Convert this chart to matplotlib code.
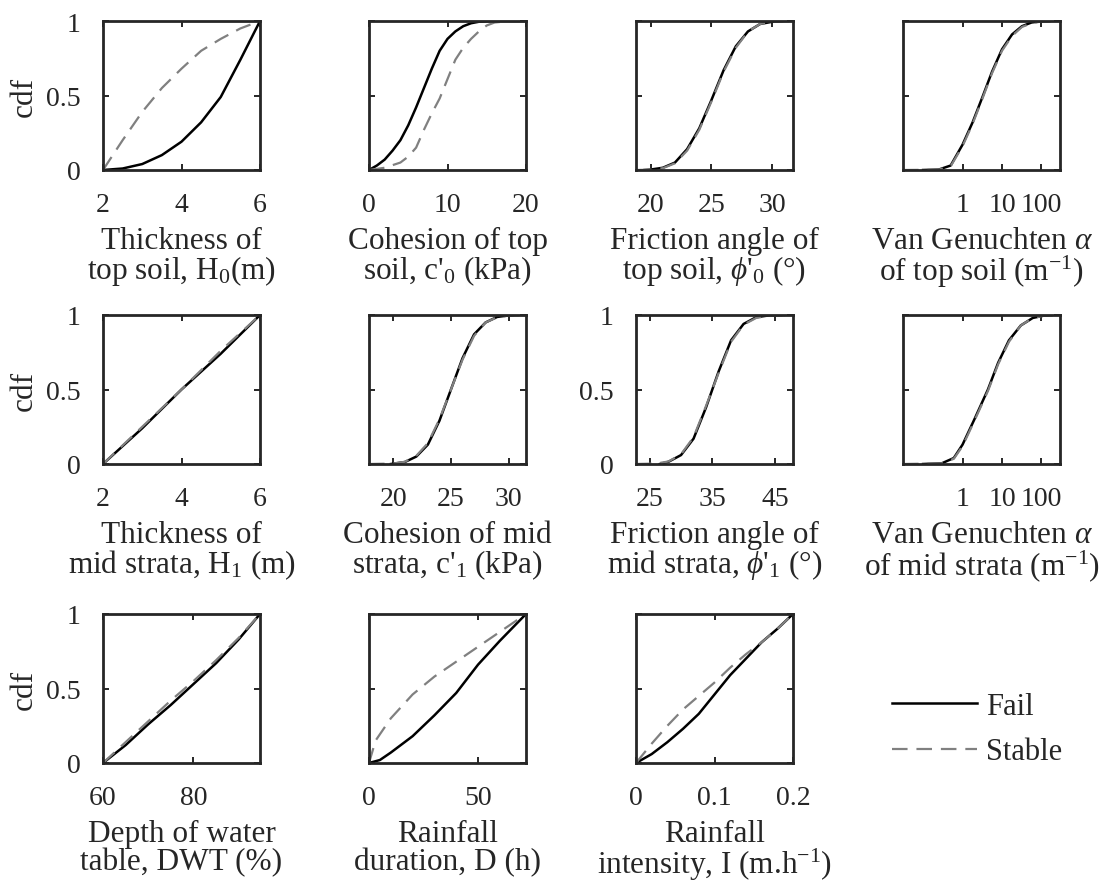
from matplotlib import pyplot as plt
from matplotlib.ticker import LogLocator, NullFormatter, FixedLocator, FixedFormatter
import numpy as np

plt.rcParams['font.family'] = ['Liberation Serif', 'DejaVu Serif']
plt.rcParams['mathtext.fontset'] = 'custom'
plt.rcParams['mathtext.rm'] = 'Liberation Serif'
plt.rcParams['mathtext.it'] = 'Liberation Serif:italic'
plt.rcParams['font.size'] = 20

INK = '#262626'
GRAY = '#808080'

# ---- data (x value, cdf) ----
h0_fail_x = [2, 2.5, 3, 3.5, 4, 4.5, 5, 5.5, 6]
h0_fail_y = [0, 0.01, 0.04, 0.1, 0.19, 0.32, 0.49, 0.74, 1.0]
h0_stab_x = [2, 2.5, 3, 3.5, 4, 4.5, 5, 5.5, 6]
h0_stab_y = [0, 0.2, 0.39, 0.55, 0.68, 0.8, 0.88, 0.95, 1.0]

c0_fail_x = [0, 1, 2, 3, 4, 5, 6, 7, 8, 9, 10, 11, 12, 13, 14, 16, 20]
c0_fail_y = [0, 0.03, 0.07, 0.13, 0.2, 0.3, 0.42, 0.55, 0.68, 0.8, 0.88, 0.93, 0.965, 0.985, 0.995, 1.0, 1.0]
c0_stab_x = [0, 2, 4, 5, 6, 7, 8, 9, 10, 11, 12, 13, 14, 15, 16, 18, 20]
c0_stab_y = [0, 0.015, 0.05, 0.09, 0.15, 0.27, 0.38, 0.48, 0.61, 0.74, 0.82, 0.88, 0.93, 0.97, 0.99, 1.0, 1.0]

phi0_fail_x = [19.5, 20, 21, 22, 23, 24, 25, 26, 27, 28, 29, 30, 30.8]
phi0_fail_y = [0, 0.003, 0.015, 0.05, 0.14, 0.28, 0.47, 0.67, 0.83, 0.93, 0.98, 0.995, 1.0]
phi0_stab_x = [18.8, 20, 21, 22, 23, 24, 25, 26, 27, 28, 29, 30, 31.7]
phi0_stab_y = [0, 0.002, 0.012, 0.045, 0.13, 0.27, 0.46, 0.66, 0.82, 0.93, 0.98, 0.995, 1.0]

a0_fail_x = [0.1, 0.25, 0.5, 1, 1.8, 3.2, 5.6, 10, 18, 32, 56, 100, 160]
a0_fail_y = [0, 0.003, 0.03, 0.17, 0.32, 0.49, 0.66, 0.81, 0.91, 0.965, 0.99, 0.998, 1.0]
a0_stab_x = [0.031, 0.25, 0.5, 1, 1.8, 3.2, 5.6, 10, 18, 32, 56, 100, 295]
a0_stab_y = [0, 0.002, 0.025, 0.16, 0.31, 0.48, 0.65, 0.8, 0.9, 0.96, 0.985, 0.997, 1.0]

h1_fail_x = [2, 3, 4, 5, 6]
h1_fail_y = [0, 0.24, 0.5, 0.74, 1.0]
h1_stab_x = [2, 3, 4, 5, 6]
h1_stab_y = [0, 0.25, 0.5, 0.76, 1.0]

c1_fail_x = [19.8, 21, 22, 23, 24, 25, 26, 27, 28, 29, 30, 30.4]
c1_fail_y = [0, 0.013, 0.05, 0.13, 0.29, 0.5, 0.71, 0.87, 0.95, 0.987, 0.997, 1.0]
c1_stab_x = [17.9, 20, 21, 22, 23, 24, 25, 26, 27, 28, 29, 30, 31.5]
c1_stab_y = [0, 0.003, 0.015, 0.055, 0.14, 0.3, 0.5, 0.7, 0.86, 0.95, 0.985, 0.996, 1.0]

phi1_fail_x = [26.6, 28, 30, 32, 34, 35, 36, 38, 40, 42, 44, 46]
phi1_fail_y = [0, 0.015, 0.06, 0.17, 0.38, 0.5, 0.62, 0.83, 0.94, 0.985, 0.997, 1.0]
phi1_stab_x = [22.8, 26, 28, 30, 32, 34, 35, 36, 38, 40, 42, 44, 47.9]
phi1_stab_y = [0, 0.003, 0.017, 0.065, 0.18, 0.39, 0.5, 0.61, 0.82, 0.935, 0.98, 0.995, 1.0]

a1_fail_x = [0.1, 0.3, 0.6, 1, 2, 4.4, 8, 15, 30, 60, 120, 180]
a1_fail_y = [0, 0.005, 0.04, 0.13, 0.3, 0.5, 0.68, 0.83, 0.93, 0.98, 0.997, 1.0]
a1_stab_x = [0.031, 0.3, 0.6, 1, 2, 4.4, 8, 15, 30, 60, 120, 295]
a1_stab_y = [0, 0.004, 0.035, 0.12, 0.29, 0.49, 0.67, 0.82, 0.93, 0.98, 0.996, 1.0]

dwt_fail_x = [60, 65, 70, 75, 80, 85, 90, 94.7]
dwt_fail_y = [0, 0.12, 0.26, 0.39, 0.53, 0.67, 0.83, 1.0]
dwt_stab_x = [60, 65, 70, 75, 80, 85, 90, 94.7]
dwt_stab_y = [0, 0.14, 0.28, 0.42, 0.55, 0.69, 0.84, 1.0]

d_fail_x = [0, 5, 10, 20, 30, 40, 50, 60, 72]
d_fail_y = [0, 0.02, 0.07, 0.18, 0.32, 0.47, 0.66, 0.82, 1.0]
d_stab_x = [0, 3, 10, 20, 30, 40, 50, 60, 72]
d_stab_y = [0, 0.15, 0.3, 0.46, 0.58, 0.68, 0.78, 0.88, 1.0]

i_fail_x = [0, 0.02, 0.04, 0.06, 0.08, 0.1, 0.12, 0.14, 0.16, 0.18, 0.2]
i_fail_y = [0, 0.06, 0.14, 0.23, 0.33, 0.46, 0.59, 0.7, 0.81, 0.9, 1.0]
i_stab_x = [0, 0.02, 0.04, 0.06, 0.08, 0.1, 0.12, 0.14, 0.16, 0.18, 0.2]
i_stab_y = [0, 0.13, 0.25, 0.36, 0.45, 0.54, 0.64, 0.73, 0.81, 0.9, 1.0]

panels = [
    (h0_fail_x, h0_fail_y, h0_stab_x, h0_stab_y, (2, 6), [2, 4, 6], ['2', '4', '6'],
     'Thickness of\ntop soil, H$_0$(m)'),
    (c0_fail_x, c0_fail_y, c0_stab_x, c0_stab_y, (0, 20), [0, 10, 20], ['0', '10', '20'],
     "Cohesion of top\nsoil, c'$_0$ (kPa)"),
    (phi0_fail_x, phi0_fail_y, phi0_stab_x, phi0_stab_y, (18.8, 31.7), [20, 25, 30], ['20', '25', '30'],
     "Friction angle of\ntop soil, $\\it{\\phi}$'$_0$ (°)"),
    (a0_fail_x, a0_fail_y, a0_stab_x, a0_stab_y, (0.031, 295), [1, 10, 100], ['1', '10', '100'],
     'Van Genuchten $\\it{\\alpha}$\nof top soil (m$^{-1}$)'),
    (h1_fail_x, h1_fail_y, h1_stab_x, h1_stab_y, (2, 6), [2, 4, 6], ['2', '4', '6'],
     'Thickness of\nmid strata, H$_1$ (m)'),
    (c1_fail_x, c1_fail_y, c1_stab_x, c1_stab_y, (17.9, 31.5), [20, 25, 30], ['20', '25', '30'],
     "Cohesion of mid\nstrata, c'$_1$ (kPa)"),
    (phi1_fail_x, phi1_fail_y, phi1_stab_x, phi1_stab_y, (22.8, 47.9), [25, 35, 45], ['25', '35', '45'],
     "Friction angle of\nmid strata, $\\it{\\phi}$'$_1$ (°)"),
    (a1_fail_x, a1_fail_y, a1_stab_x, a1_stab_y, (0.031, 295), [1, 10, 100], ['1', '10', '100'],
     'Van Genuchten $\\it{\\alpha}$\nof mid strata (m$^{-1}$)'),
    (dwt_fail_x, dwt_fail_y, dwt_stab_x, dwt_stab_y, (60, 94.7), [60, 80], ['60', '80'],
     'Depth of water\ntable, DWT (%)'),
    (d_fail_x, d_fail_y, d_stab_x, d_stab_y, (0, 72), [0, 50], ['0', '50'],
     'Rainfall\nduration, D (h)'),
    (i_fail_x, i_fail_y, i_stab_x, i_stab_y, (0, 0.2), [0, 0.1, 0.2], ['0', '0.1', '0.2'],
     'Rainfall\nintensity, I (m.h$^{-1}$)'),
]

W, H = 1101, 895
lefts = [103, 369, 636, 903]
tops = [22, 316, 615]
aw, ah = 157, 149

fig = plt.figure(figsize=(W / 100, H / 100), dpi=100)

handles = None
for k, (fx, fy, sx, sy, xlim, xt, xtl, xlabel) in enumerate(panels):
    r, c = divmod(k, 4)
    ax = fig.add_axes([lefts[c] / W, 1 - (tops[r] + ah) / H, aw / W, ah / H])
    log = xt == [1, 10, 100]
    if log:
        ax.set_xscale('log')
    l1, = ax.plot(fx, fy, color='black', lw=1.8, label='Fail')
    l2, = ax.plot(sx, sy, color=GRAY, lw=1.6, dashes=(7, 4), label='Stable')
    handles = [l1, l2]
    ax.set_xlim(*xlim)
    ax.set_ylim(0, 1)
    ax.xaxis.set_major_locator(FixedLocator(xt))
    ax.xaxis.set_major_formatter(FixedFormatter(xtl))
    if log:
        ax.xaxis.set_minor_locator(LogLocator(base=10, subs=np.arange(2, 10)))
        ax.xaxis.set_minor_formatter(NullFormatter())
    ax.set_yticks([0, 0.5, 1])
    if c == 0 or k == 6:
        ax.set_yticklabels(['0', '0.5', '1'])
    else:
        ax.set_yticklabels([])
    if c == 0:
        ax.set_ylabel('cdf', color=INK, fontsize=22.5, labelpad=5)
    ax.set_xlabel(xlabel, color=INK, fontsize=22.5, labelpad=6, linespacing=0.95)
    ax.tick_params(direction='in', top=True, right=True, length=4, width=1.4,
                   colors=INK, labelcolor=INK, labelsize=20, pad=16)
    ax.tick_params(which='minor', direction='in', top=True, length=2, width=1.0, colors=INK)
    for s in ax.spines.values():
        s.set_linewidth(2.0)
        s.set_color(INK)

fig.legend(handles, ['Fail', 'Stable'], loc='center left',
           bbox_to_anchor=(864 / W, 1 - 730 / H), frameon=False,
           handlelength=2.8, handletextpad=0.3, labelspacing=0.55, fontsize=22,
           labelcolor=INK)

fig.savefig('out.png', dpi=100)
